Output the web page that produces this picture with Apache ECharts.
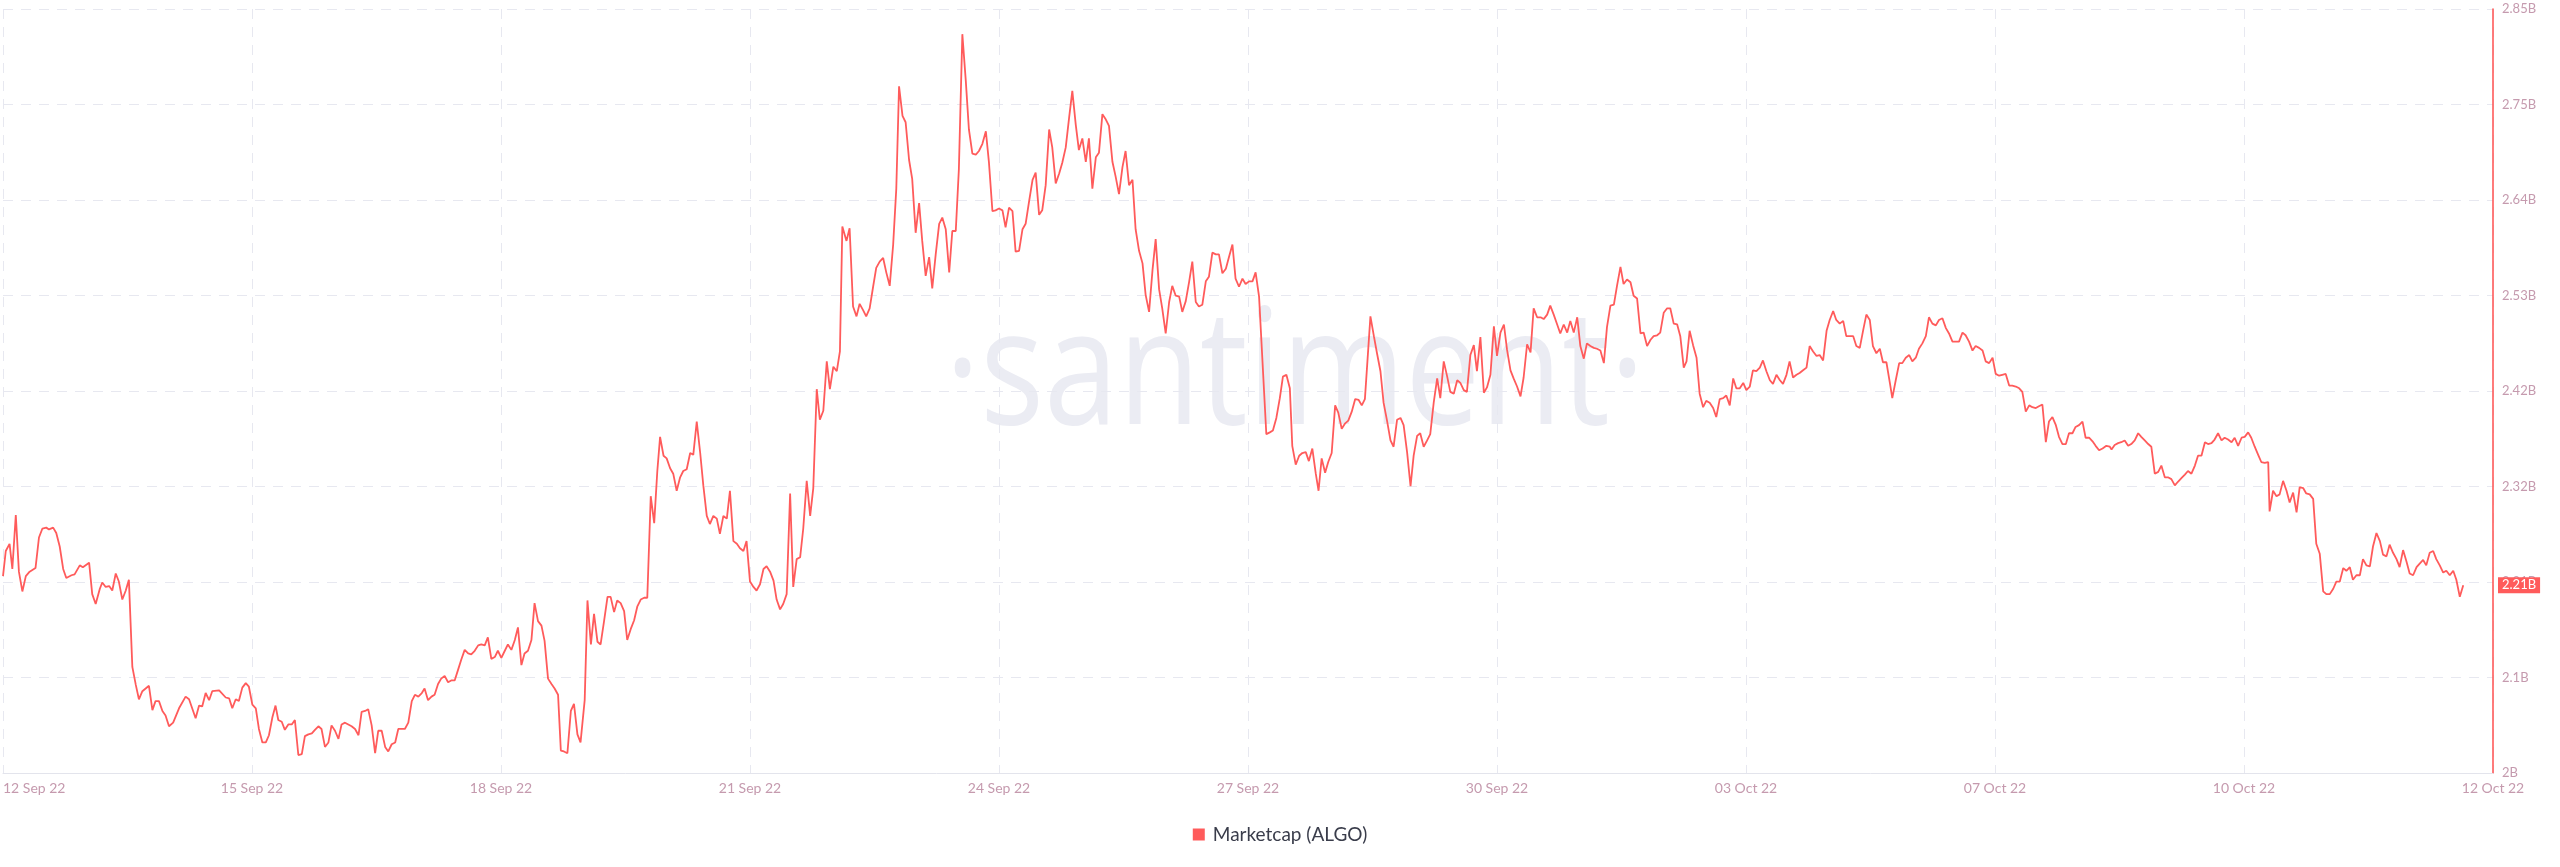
<!DOCTYPE html>
<html>
<head>
<meta charset="utf-8">
<script src="https://cdn.jsdelivr.net/npm/echarts@6/dist/echarts.min.js"></script>
<style>
html,body{margin:0;padding:0;background:#ffffff;}
#chart{width:2560px;height:867px;}
</style>
</head>
<body>
<div id="chart"></div>
<script>
// ---- tick labels ----
const xTickLabels = ['12 Sep 22','15 Sep 22','18 Sep 22','21 Sep 22','24 Sep 22','27 Sep 22','30 Sep 22','03 Oct 22','07 Oct 22','10 Oct 22','12 Oct 22'];
const yTickLabels = ['2B','2.1B','2.21B','2.32B','2.42B','2.53B','2.64B','2.75B','2.85B'];
const seriesName = 'Marketcap (ALGO)';

// ---- series: hours since 12 Sep 22 00:00, and market cap in millions USD ----
const hours = [
 0.0,0.8,1.9,2.7,3.7,4.6,5.6,6.6,7.7,9.4,
 10.4,11.4,12.5,13.3,14.5,15.4,16.4,17.4,18.3,19.8,
 20.7,22.2,23.1,24.9,25.8,26.8,28.0,28.7,29.7,30.7,
 31.6,32.6,33.5,34.5,35.5,36.4,37.4,38.4,39.3,40.3,
 42.2,43.2,44.1,45.1,46.1,47.0,48.0,49.2,50.9,52.8,
 53.8,55.7,56.7,57.6,58.6,59.6,60.5,62.5,64.4,65.4,
 66.3,67.3,68.2,69.2,70.2,71.1,72.1,73.1,74.0,75.0,
 76.0,76.9,77.9,78.8,79.6,80.6,81.5,82.5,83.5,84.4,
 85.4,86.4,87.3,88.3,89.3,90.2,91.2,92.1,93.1,94.1,
 95.0,96.0,97.0,97.9,98.9,100.8,101.8,102.8,103.7,104.7,
 105.6,106.6,107.6,108.5,109.5,110.5,111.4,112.4,113.4,114.3,
 115.3,116.2,117.2,118.2,119.1,120.1,121.1,
 121.9,122.9,123.9,124.8,125.8,126.7,127.7,128.7,129.6,130.6,
 131.6,132.5,133.5,134.5,135.4,136.4,137.4,138.3,139.3,140.2,
 141.2,142.2,143.1,144.1,145.1,146.0,147.0,148.0,148.9,149.9,
 150.8,151.8,152.8,153.7,154.7,155.7,156.6,157.6,158.6,159.5,
 160.5,161.3,162.2,163.2,164.2,165.1,166.1,167.0,168.2,169.0,
 170.0,170.9,171.9,172.8,173.8,174.8,175.7,176.7,177.6,178.6,
 179.6,180.5,181.5,182.5,183.4,184.4,185.4,186.3,187.3,188.3,
 189.2,190.0,191.0,191.9,192.9,193.8,194.8,195.8,196.7,197.7,
 198.7,199.6,200.6,201.6,202.5,203.5,204.4,205.4,206.4,207.3,
 208.3,209.3,210.2,211.2,212.2,213.1,214.1,215.0,216.0,217.0,
 217.9,218.9,219.9,220.8,221.8,222.8,223.7,224.7,225.6,226.6,
 227.6,228.5,229.5,230.5,231.4,232.4,233.4,234.3,235.3,236.2,
 237.2,238.2,239.1,240.1,241.1,242.0,242.7,
 243.9,244.8,245.8,246.8,247.7,248.7,249.6,250.6,251.6,252.5,
 253.5,254.5,255.4,256.4,257.4,258.3,259.1,260.1,261.0,262.0,
 262.9,263.9,264.9,265.8,266.8,267.8,268.7,269.7,270.7,271.6,
 272.6,273.6,274.5,275.5,276.4,277.4,278.4,279.3,280.3,281.3,
 282.2,283.2,284.2,285.1,286.1,287.0,288.0,289.0,289.9,290.9,
 291.9,292.8,293.8,294.8,295.7,296.7,297.7,298.6,299.6,300.5,
 301.5,302.5,303.4,304.4,305.4,306.3,307.3,308.3,309.2,310.2,
 311.1,312.1,313.1,314.0,315.0,316.0,316.9,317.9,318.9,319.8,
 320.8,321.7,322.7,323.7,324.6,325.6,326.6,327.5,328.5,329.5,
 330.4,331.4,332.4,333.3,334.3,335.2,336.2,337.2,338.1,339.1,
 340.1,341.0,342.0,343.0,343.9,344.9,345.8,346.8,347.8,348.7,
 349.7,350.7,351.6,352.6,353.6,354.5,355.5,356.4,357.4,358.4,
 359.3,360.3,361.3,362.2,363.2,
 365.3,366.3,367.2,368.2,369.2,370.1,371.1,372.1,372.8,373.8,
 374.8,375.7,376.7,377.6,378.6,379.6,380.4,381.3,382.3,383.2,
 384.2,385.2,386.1,387.1,388.1,389.0,390.0,391.0,392.0,392.9,
 393.8,395.4,396.4,397.3,398.3,399.2,400.2,401.2,402.1,403.1,
 404.1,405.0,406.0,407.0,407.9,408.9,409.8,410.8,411.8,412.7,
 413.7,414.7,415.6,416.6,417.6,418.5,419.5,420.5,421.4,422.4,
 423.3,424.3,425.3,426.2,427.2,428.2,429.1,430.1,431.1,432.0,
 433.0,434.0,434.9,435.9,436.8,437.8,438.8,439.7,440.7,441.7,
 442.6,443.6,444.6,445.5,446.5,447.4,448.4,449.4,450.3,451.3,
 452.3,453.2,454.2,455.2,456.1,457.1,458.0,459.0,460.0,460.9,
 461.9,462.9,463.8,464.8,465.8,466.7,467.7,468.6,469.6,470.6,
 471.5,472.5,473.5,474.4,475.4,476.4,477.3,478.3,479.2,480.2,
 481.2,482.1,483.1,484.1,485.0,486.0,
 486.8,487.7,488.7,489.7,490.6,491.6,492.5,493.5,494.5,495.4,
 496.4,497.4,498.3,499.3,500.3,501.2,502.2,503.2,504.1,505.1,
 506.0,507.0,508.0,508.9,509.9,510.9,511.8,512.8,513.8,514.7,
 515.7,516.6,517.6,518.6,519.5,520.5,521.5,522.4,523.4,524.4,
 525.3,526.3,527.3,528.2,529.2,530.1,531.1,532.1,533.0,534.0,
 535.0,535.9,536.9,537.9,538.8,539.8,540.7,541.7,542.7,543.6,
 544.6,545.6,546.3,547.3,548.3,549.2,550.2,551.2,552.1,553.1,
 554.0,555.0,556.0,556.9,557.9,558.9,559.8,560.8,561.8,562.7,
 563.7,564.6,565.6,566.6,567.5,568.5,569.5,570.4,571.4,572.4,
 573.3,574.3,575.3,576.2,577.2,578.1,579.1,580.1,581.0,582.0,
 583.0,583.9,584.9,585.9,586.8,587.8,588.7,589.7,590.7,591.6,
 592.6,593.6,594.5,595.5,596.5,597.4,598.4,599.3,600.3,601.3,
 602.2,603.2,604.2,605.1,606.1,607.1,
 608.2,609.2,609.7,610.6,611.6,612.5,613.5,614.5,615.4,616.4,
 617.4,618.3,619.3,620.3,621.2,622.2,623.2,624.1,625.1,626.0,
 627.0,628.0,628.9,629.9,630.9,631.8,632.8,633.8,634.7,635.7,
 636.7,637.6,638.6,639.5,640.5,641.5,642.4,643.4,644.4,645.3,
 646.3,647.3,648.2,649.2,650.1,651.1,652.1,653.0,654.0,655.0,
 655.4,656.4,657.4,658.3,659.3,660.3,661.2,662.2,663.2,664.1,
 665.1,666.0,667.0,668.0,668.9,669.9,670.9,671.8,672.8,673.8,
 674.7,675.7,676.7,677.6,678.6,679.5,680.5,681.5,682.4,683.4,
 684.4,685.3,686.3,687.3,688.2,689.2,690.1,691.1,692.1,693.0,
 694.0,695.0,695.9,696.9,697.9,698.8,699.8,700.7,701.7,702.7,
 703.6,704.6,705.6,706.5,707.5,708.5,709.4,710.4,711.4
];
const marketcapM = [
 2219,2247,2255,2227,2287,2224,2202,2219,2224,2228,
 2262,2272,2273,2271,2273,2267,2252,2227,2217,2220,
 2221,2231,2229,2234,2199,2188,2205,2212,2207,2208,
 2203,2222,2213,2193,2203,2215,2118,2098,2082,2091,
 2097,2070,2080,2080,2069,2064,2052,2056,2072,2085,
 2082,2061,2075,2074,2089,2081,2091,2092,2084,2083,
 2072,2082,2080,2095,2100,2096,2076,2072,2049,2034,
 2034,2042,2062,2075,2059,2057,2048,2054,2054,2059,
 2020,2021,2041,2043,2044,2048,2052,2049,2029,2034,
 2053,2047,2038,2054,2056,2052,2049,2042,2068,2069,
 2071,2053,2022,2047,2047,2029,2024,2032,2034,2049,
 2049,2049,2056,2080,2087,2085,2089,
 2094,2081,2085,2087,2099,2105,2108,2101,2103,2103,
 2115,2126,2137,2133,2132,2136,2142,2143,2142,2151,
 2127,2129,2136,2128,2136,2143,2137,2148,2162,2120,
 2133,2136,2148,2189,2169,2164,2147,2105,2099,2094,
 2087,2025,2024,2022,2069,2077,2043,2034,2081,2192,
 2143,2177,2146,2143,2169,2196,2196,2179,2192,2189,
 2180,2148,2160,2170,2185,2193,2195,2195,2308,2278,
 2336,2374,2353,2350,2339,2333,2314,2329,2336,2338,
 2356,2354,2391,2356,2320,2286,2277,2286,2283,2266,
 2286,2283,2314,2258,2255,2250,2247,2258,2213,2207,
 2203,2210,2227,2230,2224,2214,2193,2182,2188,2199,
 2311,2207,2238,2240,2272,2325,2286,2317,2427,2393,
 2403,2458,2427,2452,2447,2469,2608,
 2592,2606,2519,2508,2522,2515,2508,2517,2541,2562,
 2569,2573,2557,2542,2588,2650,2764,2731,2724,2682,
 2661,2601,2634,2592,2553,2574,2539,2577,2611,2618,
 2605,2557,2603,2603,2672,2822,2770,2716,2689,2688,
 2692,2700,2714,2679,2625,2626,2628,2626,2607,2629,
 2625,2580,2581,2605,2611,2636,2660,2668,2621,2626,
 2654,2716,2696,2656,2667,2679,2696,2730,2759,2721,
 2693,2706,2680,2706,2650,2685,2690,2733,2727,2720,
 2680,2664,2644,2674,2692,2654,2660,2605,2581,2567,
 2532,2513,2560,2594,2538,2517,2489,2524,2542,2531,
 2530,2513,2525,2547,2569,2524,2519,2521,2547,2552,
 2579,2577,2577,2556,2561,2574,2588,2550,2541,2550,
 2544,2547,2547,2557,2530,
 2377,2379,2381,2395,2417,2441,2443,2428,2364,2343,
 2353,2356,2357,2347,2361,2333,2314,2350,2334,2346,
 2356,2409,2401,2383,2389,2392,2402,2416,2415,2409,
 2416,2508,2486,2467,2447,2412,2392,2370,2363,2393,
 2395,2387,2357,2319,2353,2375,2378,2363,2370,2377,
 2412,2439,2417,2458,2441,2424,2422,2437,2434,2426,
 2424,2465,2476,2447,2485,2423,2429,2443,2497,2464,
 2490,2499,2471,2448,2439,2430,2419,2440,2477,2468,
 2517,2507,2507,2505,2510,2520,2510,2499,2489,2499,
 2490,2503,2490,2507,2475,2461,2478,2475,2473,2472,
 2470,2456,2496,2520,2521,2542,2563,2544,2549,2546,
 2531,2528,2489,2490,2475,2482,2486,2487,2490,2512,
 2517,2517,2500,2499,2486,2451,
 2458,2492,2476,2462,2422,2407,2414,2412,2406,2396,
 2416,2417,2420,2409,2439,2428,2428,2434,2426,2430,
 2448,2447,2451,2459,2447,2437,2433,2443,2437,2433,
 2443,2458,2440,2443,2445,2448,2451,2475,2469,2464,
 2465,2459,2492,2504,2514,2504,2500,2503,2486,2486,
 2486,2475,2473,2493,2510,2504,2475,2467,2472,2457,
 2457,2434,2417,2437,2456,2456,2462,2465,2458,2462,
 2472,2478,2486,2507,2500,2498,2504,2506,2495,2489,
 2480,2480,2480,2490,2487,2480,2470,2475,2473,2470,
 2458,2456,2462,2444,2442,2443,2444,2431,2431,2430,
 2428,2424,2402,2409,2407,2406,2408,2410,2368,2391,
 2396,2387,2374,2366,2366,2378,2378,2385,2387,2391,
 2373,2373,2369,2364,2359,2361,
 2364,2363,2360,2365,2367,2368,2370,2364,2366,2370,
 2378,2374,2370,2366,2363,2333,2335,2342,2329,2329,
 2327,2320,2324,2328,2332,2336,2333,2342,2353,2353,
 2368,2366,2367,2371,2378,2370,2373,2371,2368,2373,
 2364,2373,2374,2379,2373,2363,2354,2346,2345,2346,
 2291,2314,2308,2310,2325,2314,2301,2312,2290,2318,
 2317,2311,2310,2305,2255,2244,2202,2199,2199,2205,
 2213,2213,2228,2225,2229,2215,2220,2220,2238,2231,
 2230,2252,2267,2258,2243,2241,2254,2245,2238,2229,
 2248,2235,2222,2220,2229,2233,2237,2231,2245,2247,
 2238,2231,2223,2225,2220,2225,2215,2196,2209
];

// ---- axis ranges ----
const Y_MIN_M = 2000, Y_MAX_M = 2850;   // y axis span in millions
const X_MAX_H = 720;                      // 30 days in hours

const yStep = (Y_MAX_M - Y_MIN_M) / (yTickLabels.length - 1);
const xStep = X_MAX_H / (xTickLabels.length - 1);
const n = Math.min(hours.length, marketcapM.length);
const seriesData = [];
for (let i = 0; i < n; i++) seriesData.push([hours[i], marketcapM[i] - Y_MIN_M]);
const lastM = marketcapM[n - 1];

const RED = '#ff5b5b';
const AXIS_TXT = '#c59aae';
const GRID = '#e7e8f0';

const chart = echarts.init(document.getElementById('chart'), null, {renderer: 'canvas'});
chart.setOption({
  animation: false,
  backgroundColor: '#ffffff',
  grid: {left: 0, right: 67, top: 9, bottom: 94, containLabel: false},
  graphic: [{
    type: 'text',
    x: 1295, y: 378,
    scaleX: 0.83,
    z: -10, silent: true,
    style: {
      text: '\u00B7santiment\u00B7',
      font: '400 161px "Open Sans"',
      fill: '#ebecf3',
      align: 'center',
      verticalAlign: 'middle'
    }
  }],
  legend: {
    left: 'center', top: 820,
    itemWidth: 12, itemHeight: 12,
    icon: 'rect',
    textStyle: {fontFamily: 'Lato', fontSize: 19, color: '#3a3d4b', padding: [0, 0, 0, 3]},
    data: [seriesName]
  },
  xAxis: {
    type: 'value', min: 0, max: X_MAX_H, interval: xStep,
    axisLine: {show: true, onZero: false, lineStyle: {color: '#e3e4ec', width: 1}},
    axisTick: {show: false},
    axisLabel: {
      color: AXIS_TXT, fontFamily: 'Lato', fontSize: 14, margin: 8,
      alignMinLabel: 'left', showMinLabel: true, showMaxLabel: true,
      formatter: v => xTickLabels[Math.round(v / xStep)] || ''
    },
    splitLine: {show: true, lineStyle: {color: GRID, width: 1, type: [10, 8]}}
  },
  yAxis: {
    type: 'value', position: 'right',
    min: 0, max: Y_MAX_M - Y_MIN_M, interval: yStep,
    axisLine: {show: true, onZero: false, lineStyle: {color: RED, width: 1.6}},
    axisTick: {show: false},
    axisLabel: {
      color: AXIS_TXT, fontFamily: 'Lato', fontSize: 13, margin: 9,
      formatter: v => yTickLabels[Math.round(v / yStep)] || ''
    },
    splitLine: {show: true, lineStyle: {color: GRID, width: 1, type: [10, 8]}}
  },
  series: [{
    name: seriesName,
    type: 'line',
    data: seriesData,
    showSymbol: false,
    symbol: 'none',
    z: 3,
    lineStyle: {color: RED, width: 1.8},
    itemStyle: {color: RED},
    markLine: {
      silent: true,
      symbol: ['none', 'none'],
      animation: false,
      lineStyle: {color: 'rgba(255,91,91,0)', width: 1, type: 'solid'},
      label: {
        show: true, position: 'end', distance: 5,
        formatter: () => (lastM / 1000).toFixed(2) + 'B',
        backgroundColor: RED, color: '#ffffff', opacity: 1,
        fontFamily: 'Lato', fontSize: 13, padding: [2, 4, 1, 4]
      },
      emphasis: {disabled: true},
      data: [{yAxis: lastM - Y_MIN_M}]
    }
  }]
});
</script>
</body>
</html>
